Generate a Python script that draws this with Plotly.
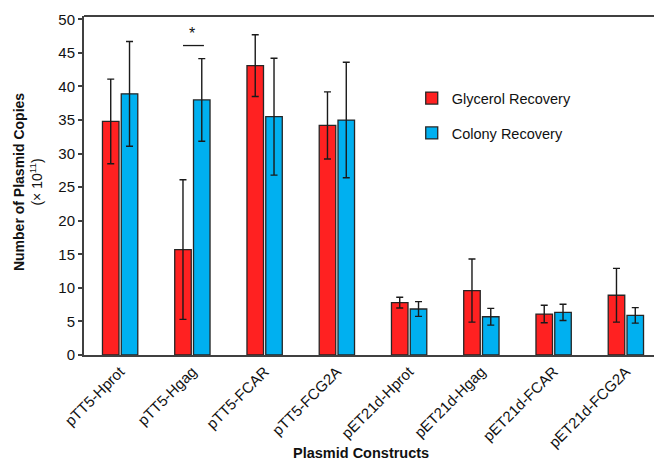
import plotly.graph_objects as go

categories = ["pTT5-Hprot", "pTT5-Hgag", "pTT5-FCAR", "pTT5-FCG2A",
              "pET21d-Hprot", "pET21d-Hgag", "pET21d-FCAR", "pET21d-FCG2A"]
glycerol = [34.8, 15.7, 43.1, 34.2, 7.8, 9.6, 6.1, 8.9]
glycerol_err = [6.3, 10.4, 4.6, 5.0, 0.8, 4.7, 1.3, 4.0]
colony = [38.9, 38.0, 35.5, 35.0, 6.85, 5.7, 6.35, 5.9]
colony_err = [7.8, 6.15, 8.7, 8.6, 1.1, 1.25, 1.2, 1.15]
y_ticks = [0, 5, 10, 15, 20, 25, 30, 35, 40, 45, 50]

FONT = "Arial, Liberation Sans, sans-serif"
AX = "#404040"

fig = go.Figure()
for name, vals, errs, col, grp in [
    ("Glycerol Recovery", glycerol, glycerol_err, "#FF2121", "g1"),
    ("Colony Recovery", colony, colony_err, "#00B0F0", "g2"),
]:
    fig.add_trace(go.Bar(
        x=categories, y=vals, name=name, legendgroup=grp,
        marker=dict(color=col, line=dict(color="#262626", width=1.3)),
        error_y=dict(type="data", array=errs, visible=True,
                     color="#1a1a1a", thickness=1.4, width=3.5),
    ))

# significance marker between pTT5-Hgag bars
fig.add_shape(type="line", xref="x", yref="y", x0=1 - 0.13, x1=1 + 0.16,
              y0=46.1, y1=46.1, line=dict(color="#1a1a1a", width=1.3))
fig.add_annotation(x=1, y=46.3, xref="x", yref="y", text="*", showarrow=False,
                   yanchor="bottom", font=dict(size=16, color="#111", family=FONT))
# top frame line
fig.add_shape(type="line", xref="paper", yref="paper", x0=0, x1=1, y0=1, y1=1,
              line=dict(color=AX, width=2.2))
# axis titles
fig.add_annotation(xref="paper", yref="paper", x=-0.097, y=0.51, textangle=-90,
                   text="<b>Number of Plasmid Copies</b><br>(× 10<sup>11</sup>)",
                   showarrow=False, xanchor="center", yanchor="middle",
                   font=dict(size=14, family=FONT, color="#111"))
fig.add_annotation(xref="paper", yref="paper", x=0.479, y=-0.289,
                   text="<b>Plasmid Constructs</b>", showarrow=False,
                   xanchor="center", yanchor="middle",
                   font=dict(size=14.5, family=FONT, color="#111"))

fig.update_layout(
    width=654, height=454,
    margin=dict(l=76, r=0, t=8, b=107, autoexpand=False),
    paper_bgcolor="white", plot_bgcolor="white",
    font=dict(family=FONT, color="#111"),
    barmode="group", bargap=0.48, bargroupgap=0.12,
    showlegend=True,
    legend=dict(x=0.567, y=0.805, xanchor="left", yanchor="top",
                font=dict(size=14.5, family=FONT, color="#111"),
                tracegroupgap=13, bgcolor="rgba(0,0,0,0)"),
    xaxis=dict(showline=True, linecolor=AX, linewidth=2, ticks="", automargin=False,
               tickangle=-45, tickfont=dict(size=15, family=FONT, color="#111")),
    yaxis=dict(range=[0, 50.5], tickvals=y_ticks, showgrid=False, zeroline=False,
               automargin=False,
               showline=True, linecolor=AX, linewidth=2, ticks="outside",
               ticklen=4, tickwidth=1.5, tickcolor=AX,
               tickfont=dict(size=15, family=FONT, color="#111")),
)

fig.write_html("out.html")
